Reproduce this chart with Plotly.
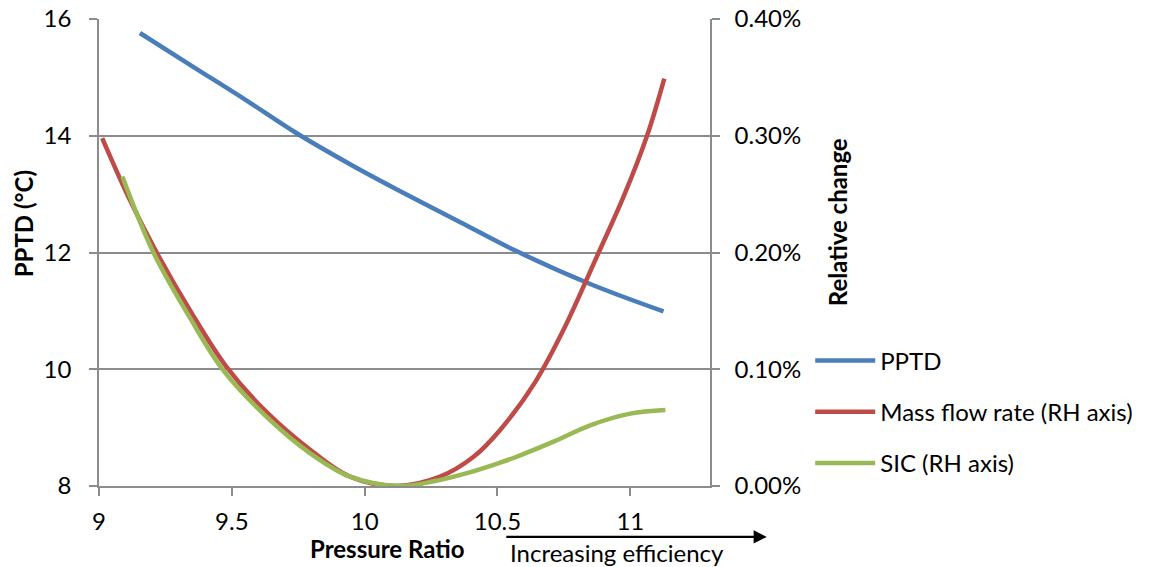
import plotly.graph_objects as go

# ---- data ----
pptd_x = [9.154, 9.362, 9.55, 9.738, 9.95, 10.134, 10.36, 10.573, 10.849, 11.125]
pptd_y = [15.76, 15.16, 14.62, 14.06, 13.5, 13.05, 12.52, 12.02, 11.46, 10.99]

mass_x = [9.012, 9.110, 9.217, 9.349, 9.48, 9.632, 9.795, 9.945, 10.12, 10.284, 10.41, 10.51,
          10.642, 10.749, 10.881, 10.975, 11.063, 11.128]
mass_y = [0.00298, 0.00248, 0.00200, 0.00148, 0.00102, 0.00063, 0.00031, 0.00008, 0.0, 0.00008,
          0.00025, 0.00048, 0.00089, 0.00134, 0.00200, 0.00248, 0.00300, 0.00349]

sic_x = [9.088, 9.205, 9.34, 9.468, 9.632, 9.795, 9.945, 10.134, 10.26, 10.385, 10.51, 10.56,
         10.711, 10.849, 11.0, 11.132]
sic_y = [0.00265, 0.00200, 0.00145, 0.00099, 0.00059, 0.00028, 0.00008, 0.0, 0.00004, 0.00011,
         0.00020, 0.00024, 0.00038, 0.00052, 0.00062, 0.00065]

x_ticks = [9, 9.5, 10, 10.5, 11]
y_ticks = [8, 10, 12, 14, 16]
y2_ticks = [0, 0.001, 0.002, 0.003, 0.004]

FONT = "Lato, 'Open Sans', sans-serif"
GRID = "#8c8c8c"

fig = go.Figure()
fig.add_trace(go.Scatter(x=pptd_x, y=pptd_y, name="PPTD", mode="lines",
                         line=dict(color="#4A7EBB", width=4.5, shape="spline", smoothing=1),
                         legendgroup="a"))
fig.add_trace(go.Scatter(x=mass_x, y=mass_y, name="Mass flow rate (RH axis)", mode="lines",
                         line=dict(color="#BE4B48", width=4.5, shape="spline", smoothing=1),
                         yaxis="y2", legendgroup="b"))
fig.add_trace(go.Scatter(x=sic_x, y=sic_y, name="SIC (RH axis)", mode="lines",
                         line=dict(color="#98B954", width=4.5, shape="spline", smoothing=1),
                         yaxis="y2", legendgroup="c"))

axis_common = dict(showline=True, linecolor=GRID, linewidth=1.5, ticks="outside", ticklen=8,
                   tickcolor=GRID, tickwidth=1.5, zeroline=False, automargin=False)

fig.update_layout(
    width=1149, height=567,
    margin=dict(l=99, r=439, t=19, b=81, autoexpand=False),
    paper_bgcolor="white", plot_bgcolor="white",
    font=dict(family=FONT, size=24, color="black"),
    xaxis=dict(range=[9, 11.3], tickvals=x_ticks, ticktext=[str(v) for v in x_ticks],
               showgrid=False, ticklabelstandoff=5, **axis_common),
    yaxis=dict(range=[8, 16], tickvals=y_ticks, showgrid=True, gridcolor=GRID, gridwidth=1.5,
               ticklabelstandoff=13, **axis_common),
    yaxis2=dict(range=[0, 0.004], tickvals=y2_ticks, tickformat=".2%", overlaying="y", side="right",
                showgrid=False, ticklabelstandoff=10, **axis_common),
    legend=dict(x=1.164, y=0.316, xanchor="left", yanchor="top", tracegroupgap=17,
                itemwidth=60, font=dict(size=24), bgcolor="rgba(0,0,0,0)"),
    showlegend=True,
)

fig.add_annotation(text="<b>PPTD (°C)</b>", xref="paper", yref="paper", x=-0.124, y=0.561,
                   textangle=-90, showarrow=False, font=dict(size=24), xanchor="center", yanchor="middle")
fig.add_annotation(text="<b>Relative change</b>", xref="paper", yref="paper", x=1.208, y=0.565,
                   textangle=-90, showarrow=False, font=dict(size=24), xanchor="center", yanchor="middle")
fig.add_annotation(text="<b>Pressure Ratio</b>", xref="paper", yref="paper", x=0.471, y=-0.133,
                   showarrow=False, font=dict(size=24), xanchor="center", yanchor="middle")
fig.add_annotation(text="Increasing efficiency", xref="paper", yref="paper", x=0.669, y=-0.143,
                   showarrow=False, font=dict(size=24), xanchor="left", yanchor="middle")
fig.add_annotation(text="", xref="paper", yref="paper", x=1.093, y=-0.109,
                   axref="pixel", ayref="pixel", ax=-262, ay=0, showarrow=True,
                   arrowhead=2, arrowsize=1.2, arrowwidth=2.2, arrowcolor="black")

fig.write_html("out.html", config={"displayModeBar": False},
               post_script="document.body.style.margin='0';")
